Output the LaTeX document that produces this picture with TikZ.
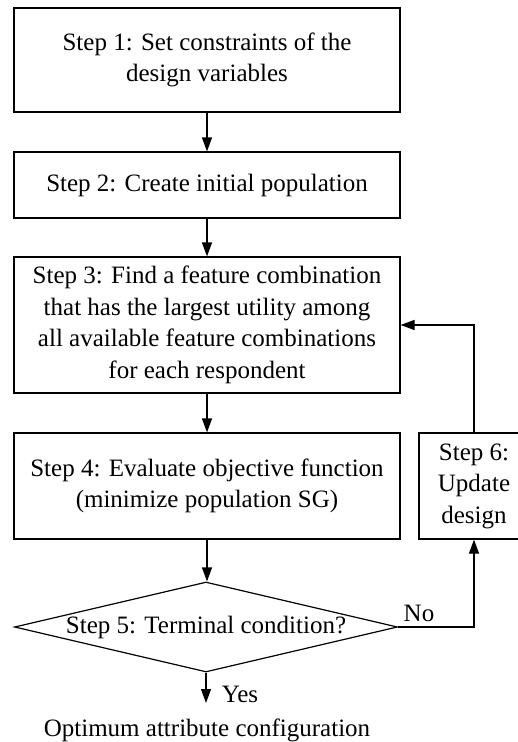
\documentclass[tikz,border=0pt]{standalone}
\usepackage{fontspec}
\setmainfont{Liberation Serif}
\usetikzlibrary{shapes.geometric,arrows.meta}
\begin{document}
\begin{tikzpicture}[x=1pt,y=-1pt,
  stepbox/.style={draw,line width=1.2pt,rectangle,align=center,inner sep=0pt,
    font=\fontsize{25}{31.5}\selectfont},
  conn/.style={line width=1.2pt,-{Triangle[length=14pt,width=10pt]}},
  lbl/.style={font=\fontsize{25}{31.5}\selectfont,inner sep=0pt}]
\useasboundingbox (0,0) rectangle (518,742);
\node[stepbox,minimum width=386pt,minimum height=104pt] (s1) at (207,60)
  {Step 1: Set constraints of the\\design variables};
\node[stepbox,minimum width=386pt,minimum height=66pt] (s2) at (207,185)
  {Step 2: Create initial population};
\node[stepbox,minimum width=386pt,minimum height=136pt] (s3) at (207,325)
  {Step 3: Find a feature combination\\that has the largest utility among\\all available feature combinations\\for each respondent};
\node[stepbox,minimum width=386pt,minimum height=106pt] (s4) at (207,486)
  {Step 4: Evaluate objective function\\(minimize population SG)};
\node[stepbox,minimum width=110pt,minimum height=106pt] (s6) at (474,486)
  {Step 6:\\Update\\design};
\node[draw,line width=1.2pt,diamond,shape aspect=4.25,inner sep=0pt,
  minimum width=383pt,minimum height=90pt,font=\fontsize{25}{31.5}\selectfont] (s5) at (206,627)
  {Step 5: Terminal condition?};
\node[lbl] (out) at (207,730) {Optimum attribute configuration};
\coordinate (outtop) at (206,703);
\node[lbl] (yes) at (240,694) {Yes};
\node[lbl] (no) at (419,613) {No};
\draw[conn] (s1) -- (s2);
\draw[conn] (s2) -- (s3);
\draw[conn] (s3) -- (s4);
\draw[conn] (s4.south) -- (s4.south |- s5.north);
\draw[conn] (s5.south) -- (outtop);
\draw[conn] (s5.east) -| (s6.south);
\draw[conn] (s6.north) |- (s3.east);
\end{tikzpicture}
\end{document}
